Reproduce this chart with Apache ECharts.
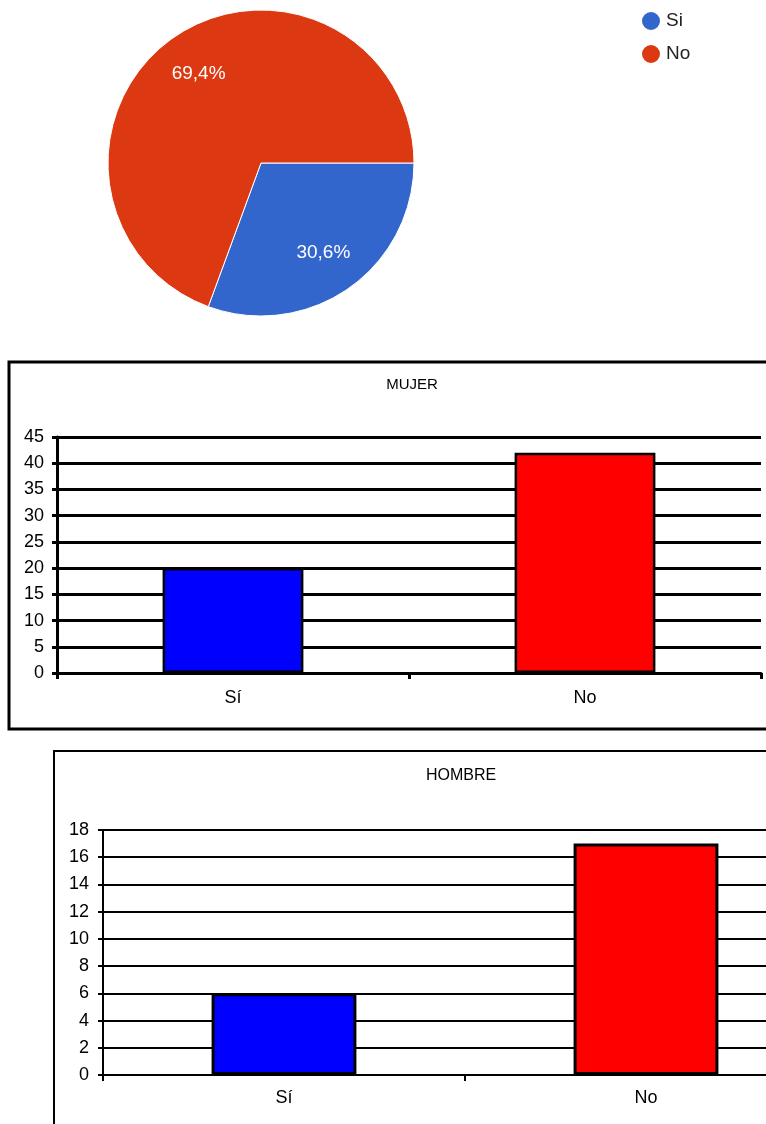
<!DOCTYPE html>
<html>
<head>
<meta charset="utf-8">
<script src="https://cdn.jsdelivr.net/npm/echarts@6/dist/echarts.min.js"></script>
<style>
html,body{margin:0;padding:0;background:#fff;width:766px;height:1124px;overflow:hidden;}
#c{width:840px;height:1124px;}
</style>
</head>
<body>
<div id="c"></div>
<script>
// ---- data ----
const pieNames = ['Si', 'No'];
const pieValues = [30.6, 69.4];
const pieColors = ['#3366CC', '#DC3912'];

const barCategories = ['Sí', 'No'];
const mujerTitle = 'MUJER';
const mujerValues = [20, 42];
const hombreTitle = 'HOMBRE';
const hombreValues = [6, 17];
const barColors = ['#0000FF', '#FF0000'];

const FONT = '"Liberation Sans", Arial, sans-serif';

const chart = echarts.init(document.getElementById('c'), null, {renderer: 'canvas'});

function pct(v) { return v.toFixed(1).replace('.', ',') + '%'; }

const pieData = pieNames.map((n, i) => ({name: n, value: pieValues[i], itemStyle: {color: pieColors[i]}}));
const pieLabelData = pieNames.map((n, i) => ({name: n, value: pieValues[i]}));

function barData(vals) {
  return vals.map((v, i) => ({value: v, itemStyle: {color: barColors[i]}}));
}

function yAxis(gi, max, interval, lw, margin) {
  return {
    type: 'value', gridIndex: gi, min: 0, max: max, interval: interval,
    axisLine: {show: true, lineStyle: {color: '#000', width: lw}},
    axisTick: {show: true, length: 5, lineStyle: {color: '#000', width: lw}},
    splitLine: {show: true, lineStyle: {color: '#000', width: lw}},
    axisLabel: {color: '#000', fontSize: 18, fontFamily: FONT, margin: margin}
  };
}
function xAxis(gi, lw, margin) {
  return {
    type: 'category', gridIndex: gi, data: barCategories, boundaryGap: true,
    axisLine: {show: true, lineStyle: {color: '#000', width: lw}},
    axisTick: {show: true, length: 6, alignWithLabel: false, interval: 0, lineStyle: {color: '#000', width: lw}},
    axisLabel: {color: '#000', fontSize: 18, fontFamily: FONT, margin: margin, interval: 0}
  };
}

const option = {
  backgroundColor: '#fff',
  animation: false,
  title: [
    {text: mujerTitle, left: 407, top: 372, textAlign: 'center',
     textStyle: {fontSize: 15, fontWeight: 'normal', color: '#000', fontFamily: FONT}},
    {text: hombreTitle, left: 456, top: 763, textAlign: 'center',
     textStyle: {fontSize: 16, fontWeight: 'normal', color: '#000', fontFamily: FONT}}
  ],
  legend: {
    orient: 'vertical', left: 635, top: 5, icon: 'circle',
    itemWidth: 20, itemHeight: 20, itemGap: 11,
    textStyle: {fontSize: 19, color: '#222', fontFamily: FONT},
    data: pieNames.map((n, i) => ({name: n, itemStyle: {color: pieColors[i]}}))
  },
  graphic: [
    {type: 'rect', shape: {x: 9, y: 362, width: 900, height: 367},
     style: {fill: 'none', stroke: '#000', lineWidth: 3}, z: 100},
    {type: 'rect', shape: {x: 54, y: 751, width: 900, height: 500},
     style: {fill: 'none', stroke: '#000', lineWidth: 2}, z: 100}
  ],
  grid: [
    {left: 57, top: 437, width: 704, height: 236},
    {left: 103, top: 830, width: 724, height: 245}
  ],
  xAxis: [xAxis(0, 3, 16), xAxis(1, 2, 14)],
  yAxis: [yAxis(0, 45, 5, 3, 13), yAxis(1, 18, 2, 2, 14)],
  series: [
    {
      type: 'pie', center: [261, 163], radius: 153, startAngle: 0, clockwise: true,
      data: pieData, label: {show: false}, labelLine: {show: false},
      itemStyle: {borderColor: '#fff', borderWidth: 1}, silent: true
    },
    {
      type: 'pie', center: [261, 163], radius: 212, startAngle: 0, clockwise: true,
      data: pieLabelData, silent: true, legendHoverLink: false,
      itemStyle: {color: 'rgba(0,0,0,0)', borderWidth: 0},
      label: {show: true, position: 'inside', color: '#fff', fontSize: 19,
              fontFamily: FONT,
              formatter: p => pct(p.value)},
      labelLine: {show: false}, z: 5
    },
    {
      type: 'bar', xAxisIndex: 0, yAxisIndex: 0, barWidth: '40%',
      data: barData(mujerValues),
      itemStyle: {borderColor: '#000', borderWidth: 2.5}
    },
    {
      type: 'bar', xAxisIndex: 1, yAxisIndex: 1, barWidth: '40%',
      data: barData(hombreValues),
      itemStyle: {borderColor: '#000', borderWidth: 3}
    }
  ]
};
chart.setOption(option);
</script>
</body>
</html>
